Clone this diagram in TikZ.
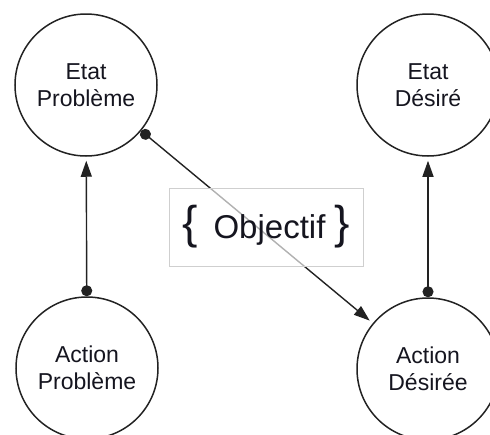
\documentclass[tikz,border=0pt]{standalone}
\usepackage{fontspec}
\setmainfont{Liberation Sans}
\usetikzlibrary{arrows.meta}

\definecolor{inkline}{HTML}{222222}
\definecolor{inktext}{HTML}{15151F}
\definecolor{boxline}{HTML}{CFCFCF}

\tikzset{
  state/.style={circle, draw=inkline, line width=1.5pt, minimum size=142pt,
    inner sep=0pt, align=center, text=inktext,
    font=\fontsize{23}{27}\selectfont},
  link/.style={draw=inkline, line width=1.4pt,
    {Circle[length=11pt]}-{Triangle[length=16pt, width=11pt]},
    shorten >=4pt},
  goalbox/.style={draw=boxline, line width=0.8pt, fill=white,
    fill opacity=0.65, text opacity=1, text=inktext, inner sep=0pt,
    minimum width=194pt, minimum height=78pt,
    font=\fontsize{33}{36}\selectfont}
}

\begin{document}
\begin{tikzpicture}[x=1pt, y=-1pt]
  \clip (0,0) rectangle (490,434);

  % the four states
  \node[state] (ep) at (86,85)  {Etat\\Problème};
  \node[state] (ed) at (428,85) {Etat\\Désiré};
  \node[state] (ap) at (87,368) {Action\\Problème};
  \node[state] (ad) at (428,369) {Action\\Désirée};

  % links between them
  \draw[link] (ap) -- (ep);
  \draw[link] (ad) -- (ed);
  \draw[link] (ep) -- (ad);

  % goal label laid over the diagonal link
  \node[goalbox] (obj) at (266,227)
    {\raisebox{-3.5pt}{{\fontsize{46}{46}\selectfont\{}\hspace{16pt}Objectif\hspace{9pt}{\fontsize{46}{46}\selectfont\}}}};
\end{tikzpicture}
\end{document}
